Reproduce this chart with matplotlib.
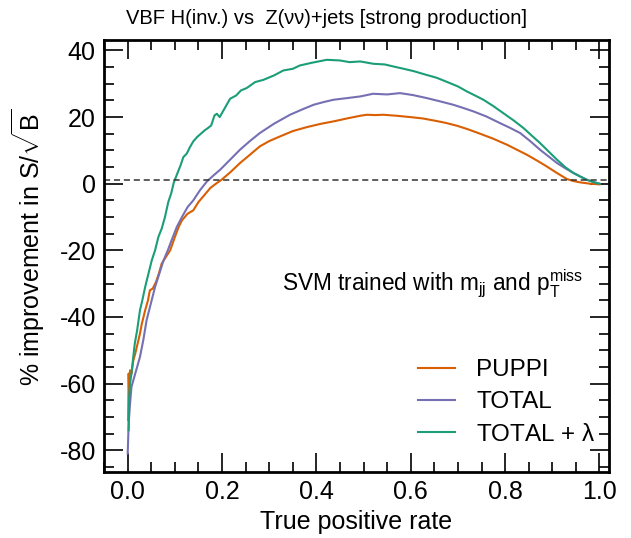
import matplotlib
matplotlib.use("Agg")
import matplotlib.pyplot as plt
from matplotlib.ticker import MultipleLocator

plt.rcParams['font.family'] = ['Liberation Sans', 'DejaVu Sans']
plt.rcParams['mathtext.fontset'] = 'custom'
plt.rcParams['mathtext.rm'] = 'Liberation Sans'
plt.rcParams['mathtext.it'] = 'Liberation Sans'

# PUPPI
puppi_x = [0.001, 0.002, 0.003, 0.005, 0.008, 0.012, 0.016, 0.021, 0.026, 0.03, 0.037, 0.043,
           0.047, 0.053, 0.06, 0.066, 0.072, 0.081, 0.09, 0.1, 0.108, 0.115, 0.127, 0.139, 0.15,
           0.162, 0.175, 0.187, 0.199, 0.218, 0.238, 0.26, 0.28, 0.3, 0.323, 0.35, 0.38, 0.41,
           0.436, 0.465, 0.493, 0.507, 0.525, 0.542, 0.57, 0.599, 0.625, 0.648, 0.673, 0.698,
           0.722, 0.747, 0.775, 0.804, 0.825, 0.846, 0.867, 0.888, 0.91, 0.931, 0.945, 0.959,
           0.98, 1.0]
puppi_y = [-71, -57, -63, -56, -57, -53, -51, -48, -45, -42, -38, -35, -32, -31.5, -29.5, -27,
           -24, -22, -20, -16, -13, -11, -9, -8, -5.5, -3.5, -1.3, 0, 1.2, 3.5, 6.2, 8.8, 11.2,
           12.8, 14.2, 15.8, 17, 18, 18.7, 19.6, 20.4, 20.7, 20.6, 20.7, 20.4, 20, 19.6, 19,
           18.3, 17.4, 16.3, 15, 13.5, 11.7, 10.2, 8.7, 7, 5.2, 3.2, 1.4, 0.8, 0.4, 0, -0.2]

# TOTAL
total_x = [0.0, 0.002, 0.005, 0.008, 0.012, 0.018, 0.026, 0.033, 0.04, 0.049, 0.058, 0.067,
           0.076, 0.085, 0.093, 0.104, 0.115, 0.127, 0.139, 0.153, 0.168, 0.182, 0.196, 0.217,
           0.238, 0.259, 0.28, 0.31, 0.344, 0.37, 0.394, 0.415, 0.436, 0.465, 0.493, 0.52, 0.55,
           0.577, 0.605, 0.634, 0.66, 0.69, 0.71, 0.733, 0.76, 0.789, 0.81, 0.832, 0.853, 0.874,
           0.892, 0.91, 0.928, 0.945, 0.96, 0.973, 0.987, 1.0]
total_y = [-81, -72, -66, -61, -59, -56, -52, -47, -41, -36, -31, -27, -23, -20, -17, -13, -10,
           -7, -5, -2, 0.7, 2.5, 4.2, 7.2, 10.2, 12.8, 15.2, 18, 20.7, 22.3, 23.7, 24.5, 25.2,
           25.7, 26.2, 27, 26.8, 27.2, 26.6, 25.7, 24.8, 23.7, 22.8, 21.7, 20.2, 18.2, 16.8,
           15.2, 12.8, 10.2, 8.2, 6.2, 4.6, 3.2, 2.1, 1.2, 0.5, 0]

# TOTAL + lambda
lam_x = [0.002, 0.003, 0.005, 0.008, 0.011, 0.015, 0.02, 0.026, 0.031, 0.037, 0.044, 0.051,
         0.058, 0.065, 0.072, 0.079, 0.086, 0.092, 0.098, 0.105, 0.112, 0.118, 0.125, 0.132,
         0.139, 0.147, 0.155, 0.163, 0.17, 0.177, 0.184, 0.189, 0.195, 0.205, 0.217, 0.23,
         0.24, 0.252, 0.27, 0.288, 0.31, 0.33, 0.35, 0.365, 0.39, 0.422, 0.45, 0.47, 0.493,
         0.521, 0.545, 0.563, 0.585, 0.606, 0.63, 0.655, 0.683, 0.7, 0.719, 0.736, 0.754,
         0.775, 0.796, 0.818, 0.839, 0.856, 0.874, 0.892, 0.91, 0.928, 0.945, 0.96, 0.973,
         0.987, 1.0]
lam_y = [-74, -64, -60, -57, -53, -48, -44, -38, -35, -31, -27, -23, -20, -16, -13.5, -10, -5.5,
         -3, 0.5, 3, 5.5, 8, 9, 11, 12.7, 14, 15, 16, 16.7, 17.5, 20.5, 21, 20, 22.5, 25.5,
         26.5, 28, 28.7, 30.5, 31.2, 32.5, 34, 34.5, 35.5, 36.3, 37.2, 37, 36.5, 36.7, 36,
         35.8, 35.2, 34.5, 33.8, 32.8, 31.8, 30.2, 29.2, 27.7, 26.5, 25.2, 23.3, 21.2, 19,
         16.7, 14.5, 12.2, 9.7, 7.2, 4.9, 3.2, 2.1, 1.2, 0.5, 0]

fig = plt.figure(figsize=(6.31, 5.38), dpi=100)
ax = fig.add_axes([0.165, 0.123, 0.8, 0.803])

ax.plot(puppi_x, puppi_y, color='#d95f02', lw=1.5, label='PUPPI')
ax.plot(total_x, total_y, color='#7570b3', lw=1.5, label='TOTAL')
ax.plot(lam_x, lam_y, color='#1b9e77', lw=1.5, label=r'TOTAL + $\lambda$')
ax.axhline(1, color='#333333', lw=1.1, ls=(0, (4, 2.5)))

ax.set_xlim(-0.05, 1.02)
ax.set_ylim(-86.5, 43.2)
ax.xaxis.set_major_locator(MultipleLocator(0.2))
ax.xaxis.set_minor_locator(MultipleLocator(0.05))
ax.yaxis.set_major_locator(MultipleLocator(20))
ax.yaxis.set_minor_locator(MultipleLocator(5))
ax.xaxis.set_major_formatter(plt.FuncFormatter(lambda v, p: f"{v:.1f}"))
ax.yaxis.set_major_formatter(plt.FuncFormatter(lambda v, p: f"{v:.0f}"))
ax.tick_params(which='both', direction='in', top=True, right=True, labelsize=18, width=1.2)
ax.tick_params(which='major', length=14, pad=6)
ax.tick_params(which='minor', length=7)
for s in ax.spines.values():
    s.set_linewidth(2)

ax.set_xlabel('True positive rate', fontsize=18)
ax.set_ylabel(r'% improvement in S/$\sqrt{\mathrm{B}}$', fontsize=18)
ax.yaxis.set_label_coords(-0.113, 0.52)

ax.text(0.965, -30, r'SVM trained with m$_{\mathrm{jj}}$ and p$_{\mathrm{T}}^{\mathrm{miss}}$',
        fontsize=16.3, ha='right', va='center')

ax.legend(loc='lower right', bbox_to_anchor=(1.018, 0.01), frameon=False, fontsize=17.5,
          handlelength=1.5, handletextpad=0.9, labelspacing=0.42)

fig.text(0.518, 0.966, 'VBF H(inv.) vs  Z(\u03bd\u03bd)+jets [strong production]',
         fontsize=14.5, ha='center', va='center')

fig.savefig('out.png', dpi=100)
